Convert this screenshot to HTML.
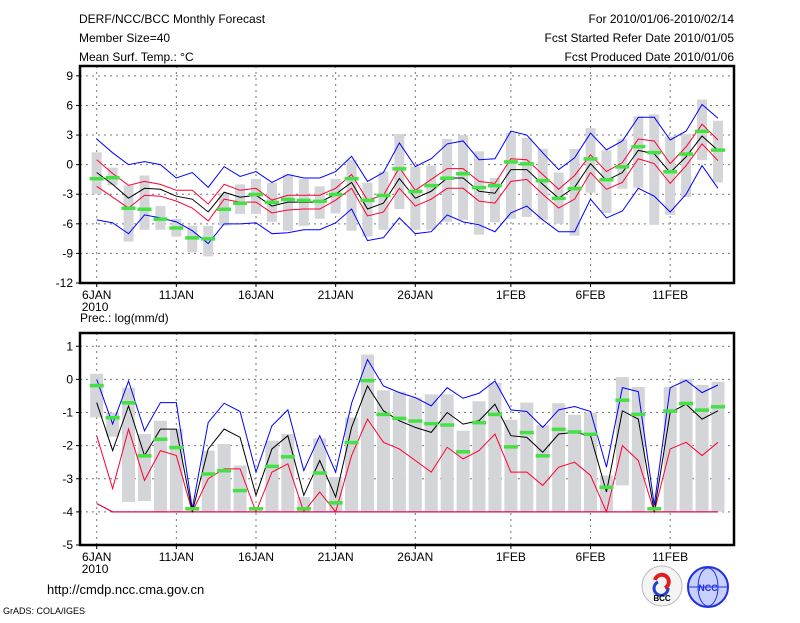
<!DOCTYPE html>
<html><head><meta charset="utf-8"><style>
body{margin:0;background:#fff;}
svg text{font-family:"Liberation Sans",sans-serif;font-size:12px;fill:#000;}
</style></head><body>
<svg id="c" width="800" height="618" viewBox="0 0 800 618" xmlns="http://www.w3.org/2000/svg">
<text x="79" y="23">DERF/NCC/BCC Monthly Forecast</text>
<text x="79" y="42">Member Size=40</text>
<text x="79" y="61">Mean Surf. Temp.: °C</text>
<text x="734" y="23" text-anchor="end">For 2010/01/06-2010/02/14</text>
<text x="734" y="42" text-anchor="end">Fcst Started Refer Date 2010/01/05</text>
<text x="734" y="61" text-anchor="end">Fcst Produced Date 2010/01/06</text>
<text x="80" y="322">Prec.: log(mm/d)</text>
<text x="47" y="594" style="font-size:13px">http://cmdp.ncc.cma.gov.cn</text>
<text x="3" y="614" style="font-size:9px">GrADS: COLA/IGES</text>
<g>
<circle cx="662" cy="586" r="20" fill="#f4f4f4" stroke="#bbb"/>
<path d="M655 580 a7 7 0 1 1 10 8" stroke="#e02020" stroke-width="4" fill="none"/>
<path d="M668 588 a7 7 0 1 1 -10 -6" stroke="#2040d0" stroke-width="3" fill="none"/>
<text x="662" y="601" text-anchor="middle" style="font-size:8px;font-weight:bold">BCC</text>
</g>
<g>
<circle cx="708" cy="587" r="20" fill="#c8d0ff" stroke="#2030e0" stroke-width="2"/>
<ellipse cx="708" cy="587" rx="10" ry="19" fill="none" stroke="#2030e0"/>
<line x1="689" y1="587" x2="727" y2="587" stroke="#2030e0"/>
<text x="708" y="591" text-anchor="middle" style="font-size:9px;font-weight:bold;fill:#2030e0">NCC</text>
</g>
<g id="top"></g><g id="bot"></g>
</svg>
<script>
// ---- data ----
const days=["6JAN","11JAN","16JAN","21JAN","26JAN","1FEB","6FEB","11FEB"];
const dayIdx=[0,5,10,15,20,26,31,36];
const tTicks=[9,6,3,0,-3,-6,-9,-12];
const pTicks=[1,0,-1,-2,-3,-4,-5];
const tBlueHi=[2.6,1.2,0,0.3,0,-1.35,-0.8,-2.3,-0.2,-1.2,-0.7,-1.8,-1.0,-1.35,-1.35,-0.7,0.85,-1.7,-0.8,2.2,-0.2,0.6,2.1,2.4,0.5,0.6,3.4,3.0,1.2,-0.5,0.7,3.2,1.5,2.4,4.8,4.8,2.5,3.4,6.1,4.7];
const tRedHi=[0.5,-0.9,-2.1,-1.7,-2.0,-2.6,-2.6,-4.0,-2.0,-2.6,-2.4,-3.6,-3.1,-3.1,-3.1,-2.4,-1.0,-3.6,-3.1,-0.3,-2.6,-1.5,-0.4,-0.4,-1.7,-1.9,0.6,0.5,-1.0,-2.5,-1.1,1.0,-0.7,0.2,2.6,2.4,0.1,1.8,4.1,2.5];
const tMean=[-0.8,-2.0,-3.4,-2.4,-2.5,-3.2,-3.5,-4.8,-2.8,-3.3,-3.1,-4.2,-3.8,-3.8,-3.8,-3.0,-1.8,-4.5,-3.9,-1.4,-3.4,-2.7,-1.35,-1.35,-2.7,-2.9,-0.5,-0.5,-2.0,-3.4,-2.3,0.1,-1.6,-0.8,1.45,1.1,-0.8,0.8,2.9,1.45];
const tRedLo=[-2.2,-3.3,-4.4,-3.1,-3.2,-3.7,-4.4,-5.7,-3.5,-3.8,-3.8,-4.9,-4.6,-4.5,-4.5,-3.6,-2.4,-5.2,-4.8,-2.4,-4.2,-3.5,-2.4,-2.4,-3.7,-3.9,-1.7,-1.5,-3.0,-4.4,-3.5,-0.8,-2.5,-1.8,0.6,0.1,-1.9,-0.1,2.1,0.4];
const tBlueLo=[-5.6,-5.9,-7.0,-5.1,-5.4,-5.8,-6.7,-8.0,-6.0,-6.0,-5.9,-7.0,-6.9,-6.6,-6.6,-5.9,-4.5,-7.7,-7.4,-5.4,-7.0,-6.8,-5.1,-5.8,-6.1,-6.8,-4.9,-4.2,-5.6,-6.8,-6.8,-3.5,-5.4,-4.7,-2.4,-3.2,-4.8,-3.0,-0.1,-2.4];
const tGreen=[-1.4,-1.3,-4.4,-4.5,-5.5,-6.4,-7.4,-7.5,-4.5,-3.9,-3.0,-3.8,-3.5,-3.6,-3.7,-3.0,-1.4,-3.6,-3.1,-0.4,-2.7,-2.1,-1.35,-0.9,-2.3,-2.1,0.3,0.1,-1.6,-3.4,-2.4,0.6,-1.5,-0.2,1.85,1.25,-0.7,1.1,3.4,1.5];
const tBoxHi=[1.25,-0.3,-2.1,-1.1,-4.2,-5.5,-6.2,-6.2,-2.9,-2.0,-1.45,-1.85,-1.0,-1.45,-2.2,-1.45,0.5,-1.85,-0.7,3.1,-0.2,-0.1,2.6,3.0,1.35,-1.35,3.2,2.7,1.6,-0.8,1.6,3.7,1.45,2.6,4.9,5.1,2.85,3.1,6.6,4.45];
const tBoxLo=[-3.0,-2.1,-7.8,-6.6,-6.6,-7.3,-8.9,-9.3,-6.2,-5.0,-5.0,-5.8,-6.7,-6.2,-5.5,-4.95,-6.7,-7.3,-6.6,-4.5,-6.6,-6.6,-5.8,-5.6,-7.1,-5.85,-5.5,-5.3,-5.6,-6.0,-7.2,-2.85,-4.9,-2.45,-2.35,-6.1,-5.1,-3.3,0.45,-1.8];
const pBlueHi=[0,-1.35,-0.05,-1.55,-0.7,-0.7,-3.9,-1.3,-0.72,-0.97,-2.8,-1.4,-0.92,-2.75,-1.7,-2.8,-0.72,0.6,-0.2,-0.4,-0.55,-0.8,-0.25,-0.57,-0.42,-0.05,-0.92,-0.97,-1.45,-0.92,-0.82,-0.97,-2.65,-0.25,-0.37,-3.8,-0.25,-0.03,-0.4,-0.17];
const pMean=[-0.7,-2.15,-0.8,-2.3,-1.5,-1.5,-4.0,-2.1,-1.5,-1.75,-3.5,-2.1,-1.7,-3.5,-2.45,-3.55,-1.45,-0.2,-0.95,-1.25,-1.45,-1.6,-1.0,-1.35,-1.25,-0.75,-1.7,-1.75,-2.2,-1.65,-1.6,-1.7,-3.4,-0.95,-1.2,-4.0,-1.0,-0.75,-1.2,-0.95];
const pRedLo=[-1.7,-3.3,-1.5,-3.05,-2.15,-2.3,-4.0,-3.0,-2.7,-2.7,-4.0,-2.8,-2.55,-4.0,-3.4,-4.0,-2.3,-1.2,-1.9,-2.1,-2.45,-2.8,-2.05,-2.4,-2.15,-1.65,-2.8,-2.8,-3.2,-2.65,-2.5,-2.9,-4.0,-2.0,-2.45,-4.0,-2.1,-1.9,-2.3,-1.9];
const pMin=[-3.75,-4,-4,-4,-4,-4,-4,-4,-4,-4,-4,-4,-4,-4,-4,-4,-4,-4,-4,-4,-4,-4,-4,-4,-4,-4,-4,-4,-4,-4,-4,-4,-4,-4,-4,-4,-4,-4,-4,-4];
const pGreen=[-0.18,-1.15,-0.7,-2.3,-1.8,-2.05,-3.9,-2.85,-2.75,-3.35,-3.9,-2.62,-2.33,-3.9,-2.82,-3.72,-1.9,-0.03,-1.05,-1.17,-1.25,-1.33,-1.37,-2.18,-1.3,-1.05,-2.03,-1.6,-2.3,-1.5,-1.58,-1.65,-3.25,-0.62,-1.05,-3.9,-0.95,-0.72,-0.92,-0.82];
const pBoxHi=[0.17,-1.0,-0.25,-1.65,-1.25,-1.5,-4,-2.15,-1.95,-2.6,-4,-1.85,-1.65,-3.55,-1.78,-2.95,-1.15,0.75,-0.33,-0.37,-0.55,-0.45,-0.45,-1.55,-0.66,-0.1,-1.22,-0.7,-1.38,-0.72,-1.07,-1.0,-2.9,0.07,-0.23,-4,-0.23,0.02,-0.17,-0.07];
const pBoxLo=[-1.15,-1.73,-3.7,-3.67,-4,-4,-4,-4,-4,-4,-4,-4,-4,-4,-4,-4,-4,-4,-4,-4,-4,-4,-4,-4,-4,-4,-4,-4,-4,-4,-4,-4,-4,-3.2,-4,-4,-4,-4,-4,-4];

const NS="http://www.w3.org/2000/svg";
const X0=80,X1=734;
const xs=i=>96.7+15.93*i;
function el(p,tag,a){const e=document.createElementNS(NS,tag);for(const k in a)e.setAttribute(k,a[k]);p.appendChild(e);return e;}
function panel(g,top,bot,vmax,vmin,ticks,series,boxHi,boxLo,green,bw,pname){
  const ys=v=>top+(vmax-v)/(vmax-vmin)*(bot-top);
  ticks.forEach(t=>{
    const y=ys(t);
    if(t!==vmin&&t!==vmax){const l=el(g,'line',{x1:X0,x2:X1,y1:y,y2:y,stroke:'#777','stroke-dasharray':'2,4','stroke-width':1});
    
    }
    el(g,'line',{x1:X0-4,x2:X0,y1:y,y2:y,stroke:'#000'});
    const tx=el(g,'text',{x:X0-7,y:y+4,'text-anchor':'end'});tx.textContent=String(t);
    
    
  });
  dayIdx.forEach((d,k)=>{
    const x=xs(d);
    const l=el(g,'line',{x1:x,x2:x,y1:top,y2:bot,stroke:'#777','stroke-dasharray':'2,4'});
    
    
    el(g,'line',{x1:x,x2:x,y1:bot,y2:bot+4,stroke:'#000'});
    const tx=el(g,'text',{x:x,y:bot+16,'text-anchor':'middle'});tx.textContent=days[k];
    
    
  });
  const yr=el(g,'text',{x:xs(0)-15,y:bot+28});yr.textContent='2010';
  
  
  boxHi.forEach((h,i)=>{
    const lo=boxLo[i];if(h<=lo)return;
    const r=el(g,'rect',{x:xs(i)-bw/2,y:ys(h),width:bw,height:ys(lo)-ys(h),fill:'#d4d5d9'});
    
    
  });
  series.forEach(s=>{
    const pl=el(g,'polyline',{points:s.d.map((v,i)=>xs(i)+','+ys(v)).join(' '),fill:'none',stroke:s.c,'stroke-width':1});
    
    
  });
  green.forEach((v,i)=>{
    const r=el(g,'rect',{x:xs(i)-7,y:ys(v)-1.5,width:14,height:3.5,fill:'#44e044'});
    
    
  });
  const f=el(g,'rect',{x:X0,y:top,width:X1-X0,height:bot-top,fill:'none',stroke:'#000','stroke-width':2.5});
  
  
}
panel(document.getElementById('top'),66,283,10,-12,tTicks,
 [{d:tBlueHi,c:'#0000ff',n:'max-line'},{d:tBlueLo,c:'#0000ff',n:'min-line'},{d:tRedHi,c:'#ff0033',n:'upper-line'},{d:tRedLo,c:'#ff0033',n:'lower-line'},{d:tMean,c:'#000',n:'mean-line'}],
 tBoxHi,tBoxLo,tGreen,10,'temp');
panel(document.getElementById('bot'),333,545,1.4,-5,pTicks,
 [{d:pBlueHi,c:'#0000ff',n:'max-line'},{d:pMin,c:'#0000ff',n:'min-line'},{d:pRedLo,c:'#ff0033',n:'lower-line'},{d:pMin,c:'#ff0033',n:'min-red-line'},{d:pMean,c:'#000',n:'mean-line'}],
 pBoxHi,pBoxLo,pGreen,13,'precip');
</script>
</body></html>
